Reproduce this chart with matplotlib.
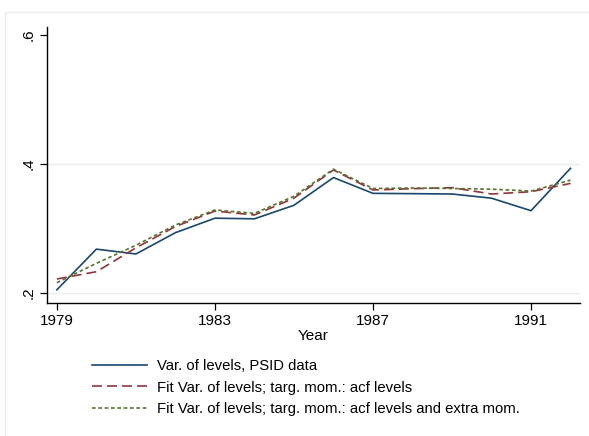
import matplotlib
matplotlib.use("Agg")
import matplotlib.pyplot as plt
from matplotlib.patches import Rectangle

plt.rcParams['font.family'] = ['Liberation Sans', 'DejaVu Sans']

# data
years = list(range(1979, 1993))
psid = [0.205, 0.268, 0.2605, 0.2935, 0.316, 0.315, 0.336, 0.379, 0.3545, 0.354, 0.3535, 0.347, 0.3276, 0.3933]
fit_acf = [0.2217, 0.233, 0.270, 0.303, 0.327, 0.321, 0.347, 0.3907, 0.3597, 0.3617, 0.3633, 0.3535, 0.357, 0.370]
fit_extra = [0.216, 0.246, 0.274, 0.3054, 0.3287, 0.3235, 0.350, 0.392, 0.362, 0.3628, 0.362, 0.361, 0.358, 0.375]
xticks = [1979, 1983, 1987, 1991]
yticks = [0.2, 0.4, 0.6]
ylabels = [".2", ".4", ".6"]

W, H = 589, 436
fig = plt.figure(figsize=(W / 100, H / 100), dpi=100)
fig.patch.set_facecolor("white")

# light outer frame (only left and top visible in the crop)
fig.patches.append(Rectangle((5 / W, -0.1), 1.2, (H - 12) / H + 0.1, transform=fig.transFigure,
                             fill=False, edgecolor="#e6ecee", linewidth=1.0))

ax = fig.add_axes([47 / W, 1 - 303 / H, (580 - 47) / W, (303 - 27) / H])
ax.plot(years, psid, color="#1a476f", lw=1.2, label="Var. of levels, PSID data")
ax.plot(years, fit_acf, color="#90353b", lw=1.2, dashes=(6, 3),
        label="Fit Var. of levels; targ. mom.: acf levels")
ax.plot(years, fit_extra, color="#55752f", lw=1.2, dashes=(2.2, 1.6),
        label="Fit Var. of levels; targ. mom.: acf levels and extra mom.")

ax.set_xlim(1978.75, 1992.24)
ax.set_ylim(0.1845, 0.6124)
ax.set_xticks(xticks)
ax.set_xticklabels([str(x) for x in xticks], fontsize=11)
ax.set_yticks(yticks)
ax.set_yticklabels(ylabels, fontsize=11, rotation=90, va="center")
ax.tick_params(length=5, width=0.9, color="black", pad=3)

for y in [0.2, 0.4]:
    ax.axhline(y, color="#e8eef0", lw=1.0, zorder=0)

for s in ["top", "right"]:
    ax.spines[s].set_visible(False)
for s in ["left", "bottom"]:
    ax.spines[s].set_linewidth(1.0)

ax.set_xlabel("Year", fontsize=11, labelpad=1)

handles, labels = ax.get_legend_handles_labels()
fig.legend(handles, labels, loc="upper left", bbox_to_anchor=(80 / W, 1 - 347 / H),
           frameon=False, fontsize=10.75, handlelength=3.7, handletextpad=0.65,
           labelspacing=0.52, borderpad=0.3)

fig.savefig("out.png", dpi=100)
